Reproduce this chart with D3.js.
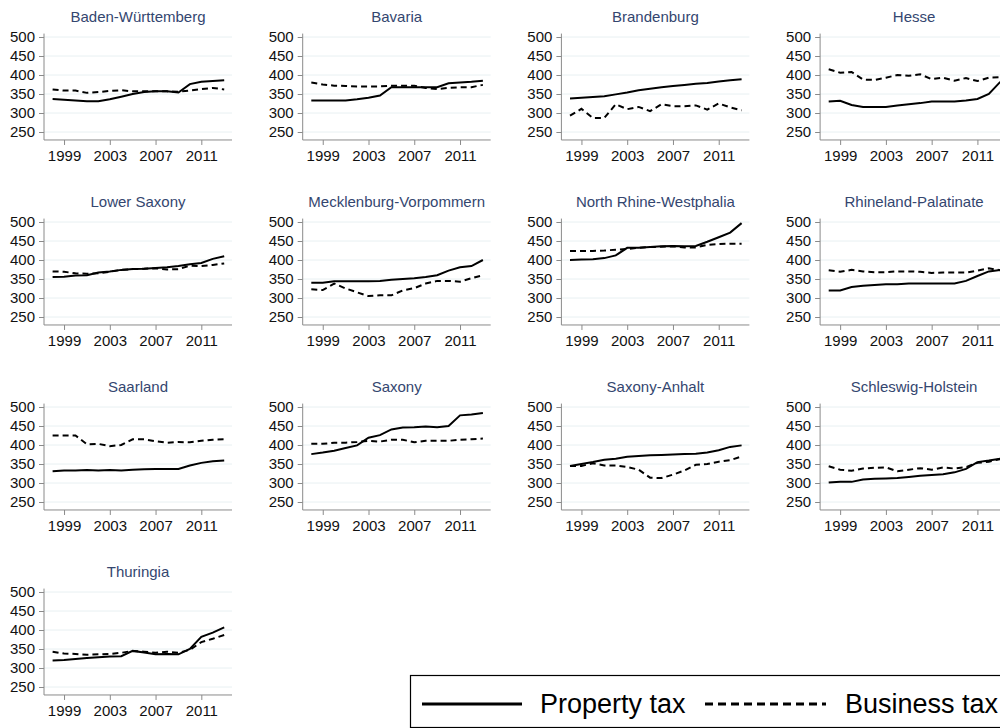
<!DOCTYPE html>
<html><head><meta charset="utf-8">
<script src="https://cdn.jsdelivr.net/npm/d3@7/dist/d3.min.js"></script>
<style>
html,body{margin:0;padding:0;background:#fff;overflow:hidden}
text{font-family:"Liberation Sans",Arial,sans-serif}
</style></head>
<body><svg id="chart" width="1000" height="728"></svg>
<script>
const years = d3.range(1998, 2014);
const states = ["Baden-Württemberg","Bavaria","Brandenburg","Hesse","Lower Saxony","Mecklenburg-Vorpommern","North Rhine-Westphalia","Rhineland-Palatinate","Saarland","Saxony","Saxony-Anhalt","Schleswig-Holstein","Thuringia"];
const yTicks = [250,300,350,400,450,500];
const xTicks = [1999,2003,2007,2011];
const seriesNames = ["Property tax","Business tax"];

const propertyTax = [
  [337,335,333,331,331,336,343,350,355,357,357,354,376,382,384,386],
  [333,333,333,333,336,340,346,368,368,368,368,368,378,380,382,385],
  [338,340,342,344,349,354,360,364,368,371,374,377,379,383,386,389],
  [330,332,321,316,316,316,320,323,326,330,330,330,333,337,350,382],
  [355,356,359,360,367,370,374,376,377,379,381,384,389,392,403,410],
  [340,340,344,344,344,344,345,348,350,352,355,360,372,381,384,400],
  [400,401,402,405,412,432,432,434,436,437,436,437,448,460,472,497],
  [320,320,329,332,334,336,336,338,338,338,338,338,345,358,370,374],
  [331,333,333,334,333,334,333,335,336,337,337,337,346,353,357,359],
  [376,380,385,392,399,419,426,441,446,447,449,447,450,478,480,484],
  [345,350,355,361,364,369,371,373,374,375,376,377,380,386,395,399],
  [301,303,303,309,311,312,313,316,319,321,323,328,337,355,359,364],
  [320,321,324,326,328,330,331,345,341,336,337,336,350,382,393,407]
];
const businessTax = [
  [362,359,359,353,355,358,360,357,357,357,357,356,359,363,366,362],
  [380,375,372,371,370,370,370,372,372,372,366,363,366,368,368,374],
  [293,311,287,287,323,310,316,305,323,318,318,320,309,325,315,307],
  [415,406,408,388,387,393,400,398,402,389,393,385,392,384,393,394],
  [370,369,365,364,365,369,374,376,377,378,375,376,385,384,387,391],
  [323,321,338,325,315,305,307,307,320,326,338,345,345,343,352,360],
  [424,424,424,425,427,429,432,434,435,436,433,433,440,442,443,443],
  [373,369,374,370,368,368,370,370,369,366,367,367,367,372,378,373],
  [425,425,425,402,403,397,400,415,415,410,406,408,407,411,414,415],
  [403,403,406,406,408,411,409,414,414,407,411,411,411,414,415,417],
  [345,345,352,346,346,342,335,314,313,322,333,348,350,356,360,370],
  [344,335,332,338,340,341,331,335,339,335,341,338,342,353,356,363],
  [343,338,337,335,336,337,340,345,343,340,343,340,348,368,377,387]
];

const svg = d3.select("#chart");
const colStep = 258.7, rowStep = 185;
const plotW = 188;
const titleColor = "#34466f";
const axisColor = "#8a8a8a";
const gridColor = "#e8f0f2";
const fs = "15px";

states.forEach((name, i) => {
  const c = i % 4, r = Math.floor(i / 4);
  const x0 = 44 + colStep * c;
  const top500 = 37 + rowStep * r;
  const x = d3.scaleLinear().domain([1998, 2013]).range([x0 + 8.6, x0 + 180.2]);
  const y = d3.scaleLinear().domain([250, 500]).range([top500 + 95, top500]);
  const g = svg.append("g");

  g.selectAll("line.grid").data(yTicks).join("line")
    .attr("x1", x0).attr("x2", x0 + plotW)
    .attr("y1", d => y(d)).attr("y2", d => y(d))
    .attr("stroke", gridColor).attr("stroke-width", 1);

  const yAxis = d3.axisLeft(y).tickValues(yTicks).tickSize(5).tickPadding(4).tickFormat(d3.format("d"));
  const ya = g.append("g").attr("transform", `translate(${x0},0)`).call(yAxis);
  ya.select(".domain").remove();
  ya.append("line").attr("x1", 0).attr("x2", 0).attr("y1", y(509)).attr("y2", y(229)).attr("stroke", axisColor);
  ya.selectAll(".tick line").attr("stroke", axisColor);
  ya.selectAll(".tick text").attr("fill", "#111").style("font-size", fs);

  const xAxis = d3.axisBottom(x).tickValues(xTicks).tickSize(5).tickPadding(5).tickFormat(d3.format("d"));
  const xa = g.append("g").attr("transform", `translate(0,${y(229)})`).call(xAxis);
  xa.select(".domain").remove();
  xa.append("line").attr("x1", x0).attr("x2", x0 + plotW).attr("y1", 0).attr("y2", 0).attr("stroke", axisColor);
  xa.selectAll(".tick line").attr("stroke", axisColor);
  xa.selectAll(".tick text").attr("fill", "#111").style("font-size", fs);

  g.append("text").attr("x", x0 + plotW / 2).attr("y", top500 - 15)
    .attr("text-anchor", "middle").attr("fill", titleColor).style("font-size", fs).text(name);

  const line = d3.line().x((d, k) => x(years[k])).y(d => y(d));
  g.append("path").datum(businessTax[i]).attr("d", line).attr("fill", "none")
    .attr("stroke", "#000").attr("stroke-width", 2).attr("stroke-dasharray", "6,4");
  g.append("path").datum(propertyTax[i]).attr("d", line).attr("fill", "none")
    .attr("stroke", "#000").attr("stroke-width", 2);
});

const lg = svg.append("g");
lg.append("rect").attr("x", 410.5).attr("y", 675.5).attr("width", 600).attr("height", 52)
  .attr("fill", "#fff").attr("stroke", "#000").attr("stroke-width", 1.2);
const legendItems = [
  {label: seriesNames[0], x1: 422, x2: 522, tx: 540, dash: null},
  {label: seriesNames[1], x1: 705, x2: 826, tx: 845, dash: "8,5"}
];
legendItems.forEach(it => {
  lg.append("line").attr("x1", it.x1).attr("x2", it.x2).attr("y1", 704).attr("y2", 704)
    .attr("stroke", "#000").attr("stroke-width", 3).attr("stroke-dasharray", it.dash);
  lg.append("text").attr("x", it.tx).attr("y", 713).attr("fill", "#000")
    .style("font-size", "27px").text(it.label);
});
</script></body></html>
